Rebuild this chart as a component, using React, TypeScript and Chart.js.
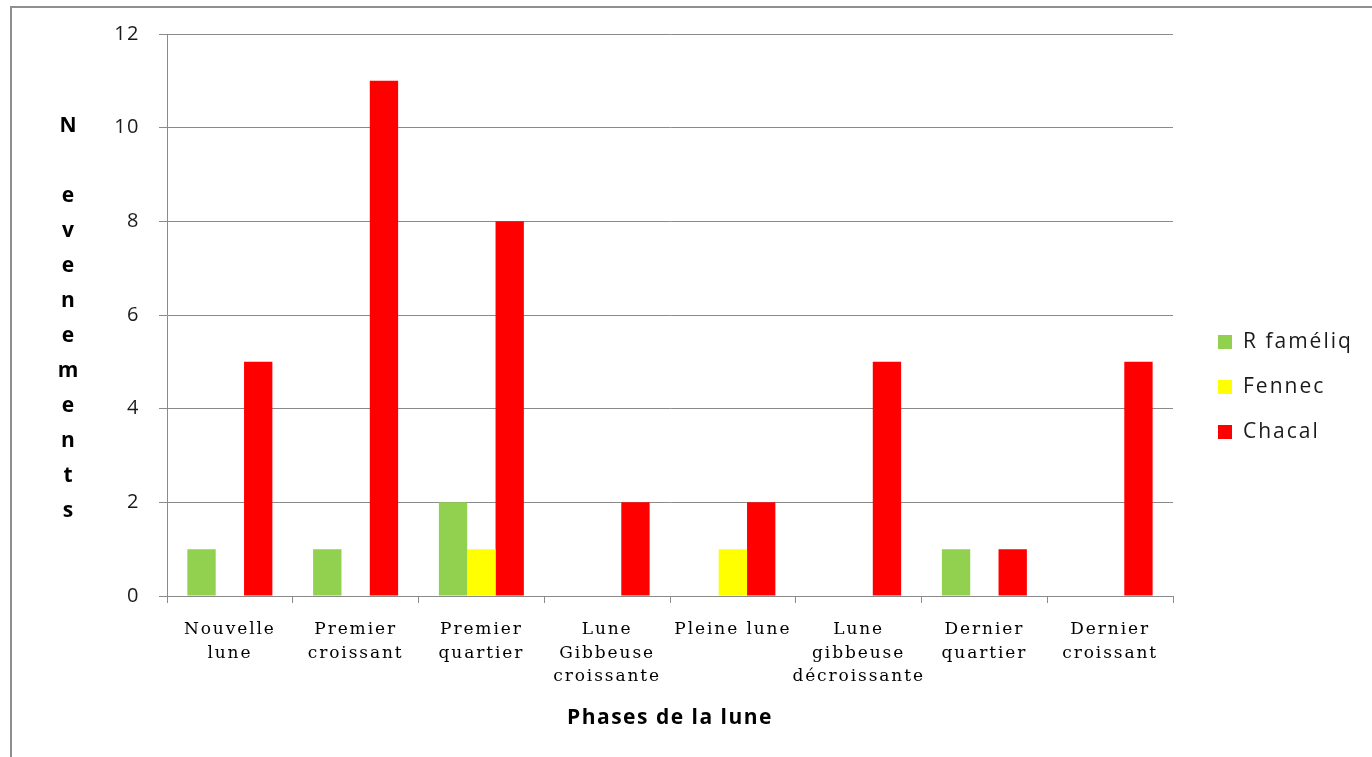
import React, { useEffect, useRef } from "react";
import { Chart, registerables } from "chart.js";

Chart.register(...registerables);

const categories: string[][] = [
  ["Nouvelle", "lune"],
  ["Premier", "croissant"],
  ["Premier", "quartier"],
  ["Lune", "Gibbeuse", "croissante"],
  ["Pleine lune"],
  ["Lune", "gibbeuse", "décroissante"],
  ["Dernier", "quartier"],
  ["Dernier", "croissant"],
];
const seriesNames = ["R faméliq", "Fennec", "Chacal"];
const rFameliq = [1, 1, 2, 0, 0, 0, 1, 0];
const fennec = [0, 0, 1, 0, 1, 0, 0, 0];
const chacal = [5, 11, 8, 2, 2, 5, 1, 5];
const seriesColors = ["#92D050", "#FFFF00", "#FF0000"];
const yMin = 0;
const yMax = 12;
const yStep = 2;
const yTitleLetters = ["N", "", "e", "v", "e", "n", "e", "m", "e", "n", "t", "s"];
const xTitle = "Phases de la lune";

const W = 1372;
const H = 757;
const GRID = "#8a8a8a";

const customPlugin = {
  id: "customDecor",
  beforeDraw(chart: any) {
    chart.ctx.letterSpacing = "1.5px";
  },
  afterDatasetsDraw(chart: any) {
    chart.ctx.letterSpacing = "1.9px";
  },
  afterDraw(chart: any) {
    const { ctx, chartArea } = chart;
    ctx.save();
    ctx.letterSpacing = "0px";
    // vertical stacked y title
    ctx.font = 'bold 21px "Open Sans"';
    ctx.fillStyle = "#000";
    ctx.textAlign = "center";
    ctx.textBaseline = "middle";
    const step = 35;
    const mid = (chartArea.top + chartArea.bottom) / 2 + 4;
    const start = mid - (step * (yTitleLetters.length - 1)) / 2;
    yTitleLetters.forEach((ch, i) => {
      if (ch) ctx.fillText(ch, chartArea.left - 99, start + i * step);
    });
    // legend
    const datasets = chart.data.datasets;
    const y0 = chartArea.top + 308;
    ctx.font = '21px "Open Sans"';
    ctx.letterSpacing = "2px";
    ctx.textAlign = "left";
    datasets.forEach((ds: any, i: number) => {
      const cy = y0 + i * 45;
      ctx.fillStyle = ds.backgroundColor;
      ctx.fillRect(chartArea.right + 45, cy - 7, 14, 14);
      ctx.fillStyle = "#1a1a1a";
      ctx.fillText(ds.label, chartArea.right + 70, cy);
    });
    ctx.restore();
    ctx.letterSpacing = "0px";
  },
};

export default function App() {
  const ref = useRef<HTMLCanvasElement>(null);
  useEffect(() => {
    if (!ref.current) return;
    const seriesData = [rFameliq, fennec, chacal];
    const chart = new Chart(ref.current, {
      type: "bar",
      data: {
        labels: categories,
        datasets: seriesNames.map((name, i) => ({
          label: name,
          data: seriesData[i],
          backgroundColor: seriesColors[i],
          borderWidth: 0,
          categoryPercentage: 0.676,
          barPercentage: 1,
        })),
      },
      options: {
        responsive: false,
        animation: false,
        devicePixelRatio: 1,
        layout: { padding: { left: 0, top: 34, right: 199, bottom: 0 } },
        plugins: {
          legend: { display: false },
          tooltip: { enabled: false },
        },
        scales: {
          x: {
            afterFit: (s: any) => {
              s.height = 161;
            },
            grid: {
              drawOnChartArea: false,
              drawTicks: true,
              tickLength: 7,
              color: GRID,
            },
            border: { color: GRID, width: 1 },
            ticks: {
              z: 1,
              autoSkip: false,
              maxRotation: 0,
              minRotation: 0,
              padding: 15,
              color: "#000",
              font: { family: '"DejaVu Serif"', size: 17, lineHeight: 1.38 },
            },
            title: {
              display: true,
              text: xTitle,
              color: "#000",
              font: { family: '"Open Sans"', size: 21, weight: "bold", lineHeight: 1.2 },
              padding: { top: 0, bottom: 26 },
            },
          },
          y: {
            min: yMin,
            max: yMax,
            afterFit: (s: any) => {
              s.width = 167;
            },
            grid: { color: GRID, tickLength: 8, drawTicks: true },
            border: { color: GRID, width: 1 },
            ticks: {
              stepSize: yStep,
              padding: 19,
              color: "#1a1a1a",
              font: { family: '"Open Sans"', size: 20 },
            },
          },
        },
      },
      plugins: [customPlugin],
    } as any);
    return () => chart.destroy();
  }, []);

  return (
    <div
      style={{
        position: "fixed",
        left: 0,
        top: 0,
        width: W,
        height: H,
        background: "#fff",
        overflow: "hidden",
      }}
    >
      <div
        style={{
          position: "absolute",
          left: 10,
          top: 6,
          width: 1500,
          height: 900,
          border: "2px solid #8f8f8f",
        }}
      />
      <canvas
        ref={ref}
        width={W}
        height={H}
        style={{ position: "absolute", left: 0, top: 0, width: W, height: H }}
      />
    </div>
  );
}
